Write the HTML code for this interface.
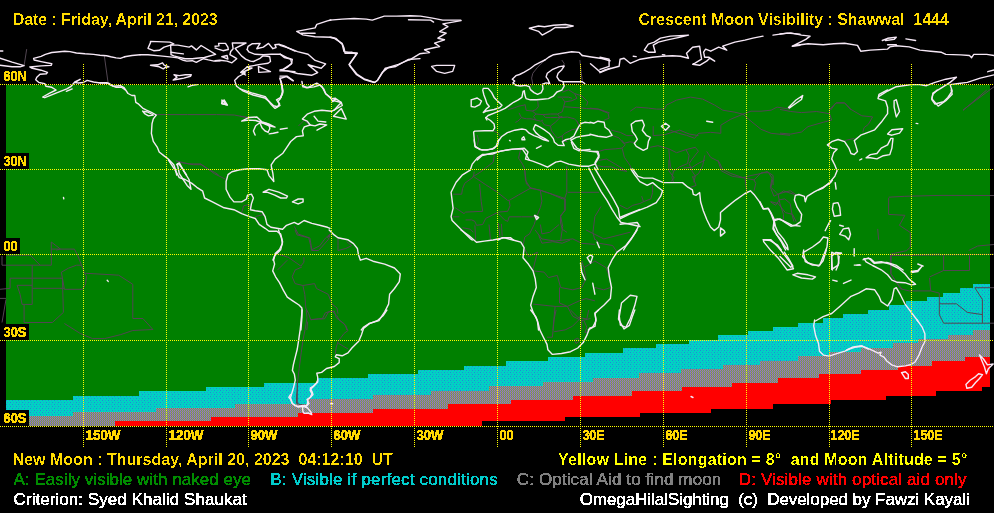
<!DOCTYPE html>
<html><head><meta charset="utf-8"><style>
html,body{margin:0;padding:0;background:#000;width:994px;height:513px;overflow:hidden}
svg{position:absolute;left:0;top:0;display:block}
.t{position:absolute;filter:url(#crisp);line-height:20px;font-family:"Liberation Sans",Arial,sans-serif;font-weight:bold;font-size:16px;white-space:pre}
.r{font-weight:normal;font-size:17px;filter:url(#crisp2)}
.gl{font-family:"Liberation Sans",Arial,sans-serif;font-weight:bold;font-size:14px;fill:#FFD800;filter:url(#crisp2)}
</style></head><body>
<svg width="994" height="513" viewBox="0 0 994 513">
<defs>
<filter id="crisp2" x="0" y="0" width="100%" height="100%"><feComponentTransfer><feFuncA type="discrete" tableValues="0 1 1 1 1"/></feComponentTransfer></filter>
<filter id="crisp" x="0" y="0" width="100%" height="100%"><feComponentTransfer><feFuncA type="discrete" tableValues="0 0 0 1 1"/></feComponentTransfer></filter>
<pattern id="pc" width="6" height="4" patternUnits="userSpaceOnUse"><rect width="6" height="4" fill="#00D2C3"/><rect x="0" y="0" width="1" height="1" fill="#1A8CD8"/><rect x="3" y="0" width="1" height="1" fill="#2A9AD0"/><rect x="1" y="2" width="1" height="1" fill="#2A9AD0"/><rect x="4" y="2" width="1" height="1" fill="#1A8CD8"/></pattern>
<pattern id="pg" width="2" height="2" patternUnits="userSpaceOnUse"><rect x="0" y="0" width="1" height="1" fill="#AF7DAA"/><rect x="0" y="1" width="1" height="1" fill="#5F7DAF"/><rect x="1" y="0" width="1" height="1" fill="#5F9164"/><rect x="1" y="1" width="1" height="1" fill="#AF915F"/></pattern>
</defs>
<rect width="994" height="513" fill="#000"/>
<g shape-rendering="crispEdges">
<polygon points="6,85 990,85 990,284 973,284 973,288 960,288 960,293 943,293 943,297 927,297 927,301 906,301 906,305 889,305 889,310 868,310 868,314 843,314 843,318 823,318 823,323 798,323 798,327 773,327 773,331 748,331 748,335 718,335 718,340 689,340 689,344 656,344 656,348 623,348 623,353 585,353 585,357 548,357 548,361 506,361 506,366 464,366 464,370 418,370 418,374 368,374 368,378 318,378 318,383 264,383 264,387 206,387 206,391 139,391 139,396 73,396 73,400 6,400" fill="#008000"/>
<polygon points="6,400 73,400 73,396 139,396 139,391 206,391 206,387 264,387 264,383 318,383 318,378 368,378 368,374 418,374 418,370 464,370 464,366 506,366 506,361 548,361 548,357 585,357 585,353 623,353 623,348 656,348 656,344 689,344 689,340 718,340 718,335 748,335 748,331 773,331 773,327 798,327 798,323 823,323 823,318 843,318 843,314 868,314 868,310 889,310 889,305 906,305 906,301 927,301 927,297 943,297 943,293 960,293 960,288 973,288 973,284 990,284 990,330 973,330 973,335 948,335 948,339 918,339 918,343 893,343 893,348 861,348 861,352 829,352 829,356 798,356 798,361 760,361 760,365 723,365 723,369 681,369 681,373 639,373 639,378 593,378 593,382 543,382 543,386 489,386 489,391 431,391 431,395 373,395 373,399 308,399 308,404 235,404 235,408 156,408 156,412 73,412 73,416 6,416" fill="url(#pc)"/>
<polygon points="6,416 73,416 73,412 156,412 156,408 235,408 235,404 308,404 308,399 373,399 373,395 431,395 431,391 489,391 489,386 543,386 543,382 593,382 593,378 639,378 639,373 681,373 681,369 723,369 723,365 760,365 760,361 798,361 798,356 829,356 829,352 861,352 861,348 893,348 893,343 918,343 918,339 948,339 948,335 973,335 973,330 990,330 990,357 965,357 965,361 932,361 932,366 898,366 898,370 861,370 861,374 819,374 819,378 778,378 778,383 732,383 732,387 682,387 682,391 632,391 632,396 573,396 573,400 511,400 511,404 448,404 448,409 373,409 373,413 298,413 298,417 211,417 211,421 115,421 115,426 6,426" fill="url(#pg)"/>
<polygon points="115,421 211,421 211,417 298,417 298,413 373,413 373,409 448,409 448,404 511,404 511,400 573,400 573,396 632,396 632,391 682,391 682,387 732,387 732,383 778,383 778,378 819,378 819,374 861,374 861,370 898,370 898,366 932,366 932,361 965,361 965,357 990,357 990,387 982,387 982,391 936,391 936,396 886,396 886,400 831,400 831,404 773,404 773,409 711,409 711,413 640,413 640,417 565,417 565,421 482,421 482,426 115,426" fill="#FF0000"/>
</g>
<g fill="none" stroke="#524652" stroke-width="1">
<polyline points="104.3,55.7 108.1,83.0"/>
<polyline points="26.7,49.1 24.1,65.7"/>
<polyline points="156.3,114.6 187.4,114.6 216.7,114.6 234.2,115.0 244.0,116.9 250.0,117.5"/>
<polyline points="175.8,160.8 181.6,162.7 193.3,164.7 201.1,164.7 206.9,168.5 214.7,172.4 218.6,175.0"/>
<polyline points="240.0,116.2 247.8,117.7"/>
<polyline points="298.5,125.9 304.3,120.1 308.2,124.0 310.2,125.0"/>
<polyline points="176.3,161.0 189.0,163.9 200.7,163.9 206.6,167.8 214.4,173.7 226.1,179.5"/>
<polyline points="241.7,212.7 243.6,205.8 247.5,204.9 251.4,206.8"/>
<polyline points="255.3,216.6 263.1,214.6 265.1,216.6"/>
<polyline points="294.3,226.3 298.2,234.1 309.9,238.0 311.9,249.7"/>
<polyline points="311.9,249.7 319.7,245.8 325.5,238.0 330.0,234.1"/>
<polyline points="295.1,230.0 297.0,234.9 308.7,237.8 310.7,245.6 311.6,250.5 318.5,250.5 328.2,239.7 330.2,234.9 327.2,237.8"/>
<polyline points="338.0,237.8 338.0,245.6 338.0,250.5 345.8,248.5 351.6,245.6 346.7,241.7"/>
<polyline points="275.6,253.4 288.3,257.3 300.9,266.1 303.9,262.2 303.9,257.3"/>
<polyline points="277.5,270.0 287.3,260.2"/>
<polyline points="301.9,267.0 295.1,270.0 292.2,276.8 295.1,283.6 302.9,285.5 314.6,283.6 316.5,288.5 328.2,294.3 332.1,304.1 337.0,308.0 338.0,313.8"/>
<polyline points="302.9,285.5 304.8,294.3 305.8,308.0 308.7,313.8 310.7,319.7 322.4,318.7 325.3,312.8 332.1,310.9 337.0,315.8 338.9,319.7 345.8,325.5 346.7,330.0"/>
<polyline points="307.7,321.6 306.8,330.0"/>
<polyline points="306.1,310.0 307.0,317.8 305.1,329.5 303.1,339.2 301.2,352.9 299.2,368.5 297.3,384.1 297.3,403.5"/>
<polyline points="310.9,319.7 318.7,318.8 324.6,318.8 328.5,311.9 334.3,311.0 336.3,317.8 344.1,323.6 348.0,330.5 344.1,333.4 338.2,341.2 336.3,347.0 335.3,353.9"/>
<polyline points="338.2,343.1 348.0,349.0"/>
<polyline points="297.3,380.0 297.3,388.0 296.5,396.1 296.5,403.3 300.1,404.5 304.1,404.9"/>
<polyline points="830.6,110.0 836.0,102.9 844.6,102.9 851.0,110.0"/>
<polyline points="963.0,110.0 994.0,86.7"/>
<polyline points="630.2,111.2 636.3,107.1 648.4,108.1 656.4,109.1 664.4,109.1 666.5,105.1 676.5,100.1 690.6,97.1 702.7,99.1 714.7,105.1 722.8,110.2 734.9,112.2 742.9,114.2 751.0,111.2 761.0,111.2 771.1,110.2 777.1,107.1 790.0,109.1"/>
<polyline points="742.9,114.2 751.0,121.2 761.0,129.3 771.1,133.3 790.0,135.3"/>
<polyline points="742.9,114.2 730.8,119.2 720.8,125.2 720.8,133.3 710.7,132.3 698.7,133.3 694.6,138.3 686.6,135.3 678.5,133.3 670.5,130.3 665.5,129.3"/>
<polyline points="706.7,151.4 710.7,157.4 718.8,161.5 722.8,169.5 730.8,173.5 742.9,177.6 751.0,175.5 761.0,173.5 767.1,171.5 773.1,175.5 773.1,185.0"/>
<polyline points="704.7,155.4 702.7,165.5 698.7,173.5 692.6,177.6"/>
<polyline points="590.0,108.1 598.0,109.1 608.1,113.2 609.1,118.2 604.1,120.2"/>
<polyline points="494.3,154.1 493.3,162.1 480.2,172.2 472.2,177.2"/>
<polyline points="520.5,150.1 518.5,158.1 522.5,164.1 524.5,168.2 525.5,180.2 530.5,188.3 540.6,190.3 564.7,198.4 566.8,192.3 566.8,166.2"/>
<polyline points="567.8,192.3 599.0,192.3"/>
<polyline points="564.7,198.4 564.7,210.4 560.7,216.5 562.7,226.5 560.7,240.0"/>
<polyline points="601.0,206.4 594.9,216.5 592.9,232.6 594.9,240.0"/>
<polyline points="524.1,247.7 528.5,256.6 537.4,252.1 535.2,261.0 533.0,269.8"/>
<polyline points="533.0,270.9 544.0,272.1 548.5,277.6 557.3,275.4 560.6,287.5 572.8,289.8 581.7,287.5 586.1,278.7 583.9,267.6 581.7,261.0"/>
<polyline points="533.0,304.1 555.1,306.4 567.3,306.4 579.4,300.8 586.1,298.6 594.9,300.8"/>
<polyline points="559.5,287.5 559.5,303.0 567.3,306.4 572.8,316.3 581.7,320.7 590.5,318.5"/>
<polyline points="555.1,306.4 552.9,330.0"/>
<polyline points="581.7,320.7 581.7,330.0"/>
<polyline points="594.9,238.9 599.4,243.3 612.6,245.5 617.1,252.1"/>
<polyline points="583.9,267.6 594.9,261.0 606.0,267.6 609.3,276.5"/>
<polyline points="535.2,230.0 541.8,238.9 555.1,241.1 572.8,238.9 581.7,243.3 594.9,244.4"/>
<polyline points="586.1,230.0 592.7,233.3 603.8,238.9 630.3,232.2"/>
<polyline points="594.9,287.5 603.8,289.8 610.4,287.5"/>
<polyline points="556.1,310.0 554.2,319.1 553.3,328.1 552.4,337.2 547.0,337.2"/>
<polyline points="554.2,331.7 565.1,329.9 572.4,326.3 579.6,319.1 581.4,310.0"/>
<polyline points="570.5,310.0 577.8,317.2 586.8,319.1 588.7,310.0"/>
<polyline points="584.1,320.9 586.8,327.2 585.0,332.6 588.7,331.7"/>
<polyline points="574.2,339.9 577.8,338.1 579.6,340.8 576.0,343.5 574.2,339.9"/>
<polyline points="668.9,160.0 668.9,170.9 674.3,178.1 670.7,181.7"/>
<polyline points="683.4,168.1 692.4,167.2 697.9,163.6 705.1,160.0"/>
<polyline points="692.4,176.3 696.1,185.4 690.6,187.2"/>
<polyline points="717.8,160.0 721.4,170.9 732.3,176.3 745.0,178.1 754.0,179.9 761.3,172.7 768.5,172.7 772.1,178.1 770.3,187.2 773.9,196.2 777.6,194.4 783.0,192.6 790.2,190.8 795.7,194.4"/>
<polyline points="745.0,178.1 746.8,192.6"/>
<polyline points="754.0,179.9 755.8,183.5 754.0,190.8"/>
<polyline points="770.3,201.7 775.7,205.3 779.4,199.8 784.8,198.9 790.2,203.5 792.0,214.3 793.9,221.6"/>
<polyline points="620.0,205.3 627.2,208.9 632.7,205.3 639.9,203.5 643.5,201.7 650.8,198.9 652.6,192.6 652.6,185.4"/>
<polyline points="643.5,201.7 641.7,196.2"/>
<polyline points="780.0,109.4 790.8,111.5 801.5,112.6 816.6,111.5 829.5,113.7 831.7,120.1 823.1,122.3 808.0,126.6 801.5,132.0 790.8,134.1 780.0,133.1"/>
<polyline points="829.5,113.7 829.5,109.4 836.0,102.9 844.6,102.9 851.0,109.4 861.8,115.8 872.6,116.9 868.3,124.4 864.0,127.7 862.9,132.0"/>
<polyline points="844.6,140.6 854.3,138.4"/>
<polyline points="963.0,110.5 986.7,90.0"/>
<polyline points="888.6,198.1 888.6,214.4 904.9,215.3 899.4,225.3 910.3,232.5 910.3,247.0 906.7,250.6 890.4,254.2 890.4,263.3"/>
<polyline points="888.6,197.2 904.9,196.3 940.0,195.4"/>
<polyline points="890.4,255.2 940.0,254.2"/>
<polyline points="877.7,228.9 878.6,239.8"/>
<polyline points="772.7,180.0 770.9,187.2 778.1,194.5 783.5,190.9 794.4,194.5"/>
<polyline points="770.9,201.7 778.1,203.5 785.4,212.6 792.6,214.4 796.2,221.7"/>
<polyline points="778.1,194.5 779.9,203.5 783.5,214.4 783.5,219.8"/>
<polyline points="890.9,255.4 890.9,273.7 896.3,282.3 902.7,289.8"/>
<polyline points="940.0,195.4 994.0,195.5"/>
<polyline points="968.7,250.5 977.7,246.0 994.0,244.5"/>
<polyline points="890.9,255.4 890.9,273.7 900.6,288.8 909.2,290.9 930.7,290.9 939.3,293.1 939.3,314.6 943.6,323.2 994.0,323.2"/>
<polyline points="939.3,303.8 956.5,303.8 967.3,312.4 982.4,314.6"/>
<polyline points="974.8,287.7 982.4,299.5 982.4,323.2"/>
<polyline points="974.8,287.7 994.0,287.7"/>
<polyline points="929.6,278.0 930.7,290.9"/>
<polyline points="929.6,276.9 943.6,270.5 943.6,255.4"/>
<polyline points="943.6,270.5 969.5,270.5 969.5,255.4"/>
<polyline points="890.9,255.4 994.0,254.3"/>
<polyline points="51.3,242.0 51.3,265.2"/>
<polyline points="51.3,242.0 60.4,249.1 56.3,250.1"/>
<polyline points="51.3,249.1 74.4,249.1 77.5,255.1 81.5,265.2 84.5,273.2 86.5,276.2 85.5,284.3 82.5,289.3 64.4,289.3 61.4,272.2 68.4,268.2 76.5,265.2 81.5,265.2"/>
<polyline points="6.0,255.1 30.2,255.1 40.2,265.2"/>
<polyline points="2.0,265.2 51.3,265.2"/>
<polyline points="32.2,265.2 32.2,304.4 22.1,304.4 20.1,294.3 17.1,285.3 32.2,285.3"/>
<polyline points="10.1,278.2 62.4,278.2"/>
<polyline points="10.1,278.2 10.1,288.3 0.0,289.3"/>
<polyline points="32.2,288.3 64.4,288.3"/>
<polyline points="62.4,278.2 63.4,312.4 52.3,322.5 24.1,322.5 24.1,304.4"/>
<polyline points="6.0,298.4 0.0,298.4"/>
<polyline points="6.0,299.4 2.0,322.5"/>
<polyline points="84.5,273.2 118.7,275.2 132.8,284.3 132.8,318.5 142.9,318.5 152.9,329.5 132.8,330.5 120.7,334.6 104.6,338.6 92.6,338.6 80.5,333.6 64.4,323.5"/>
<polyline points="2.0,256.1 2.0,265.2"/>
<polyline points="544.9,60.0 537.6,67.2 532.8,73.3 531.6,78.1 532.8,84.1 530.4,87.8"/>
<polyline points="561.8,60.0 564.2,63.6 563.0,67.2"/>
<polyline points="579.9,60.0 581.1,72.1 582.3,80.5"/>
<polyline points="494.1,131.4 497.8,132.6 500.2,136.2"/>
<polyline points="477.2,135.0 478.5,139.8 477.2,145.9"/>
<polyline points="453.1,194.2 461.7,194.2 462.5,188.7 464.8,183.2 473.4,177.0 474.2,171.6"/>
<polyline points="474.2,177.0 485.8,184.8 496.8,191.8 507.7,200.4 509.2,200.4"/>
<polyline points="479.6,184.0 481.2,201.2 482.7,211.3 465.6,212.1 464.0,213.6"/>
<polyline points="509.2,200.4 518.6,194.9 531.0,187.9 540.4,190.3 549.7,193.4 562.2,198.8 565.3,198.8"/>
<polyline points="509.2,200.4 510.0,205.8 507.7,211.3 498.3,212.1 492.1,215.2 485.8,218.3 482.7,224.5 476.5,225.3 474.9,221.4 471.8,219.9 465.6,219.9"/>
<polyline points="496.8,212.1 504.5,219.9 507.7,221.4 509.2,216.8 521.7,216.8 532.6,216.8 535.7,214.4"/>
<polyline points="540.4,190.3 541.9,201.2 540.4,207.4 536.5,216.8"/>
<polyline points="536.5,216.8 534.2,224.5 529.5,233.9 524.8,237.0 523.2,244.8"/>
<polyline points="565.3,198.8 565.3,210.5 560.6,215.2 560.6,223.0 562.2,229.2 566.9,232.3"/>
<polyline points="540.4,224.5 541.9,233.9 549.7,232.3 559.1,224.5"/>
<polyline points="538.8,235.5 541.9,243.2 552.9,241.7 562.2,243.2 570.0,240.1"/>
<polyline points="498.3,223.0 499.9,237.0"/>
<polyline points="501.4,223.8 502.2,236.2"/>
<polyline points="489.0,224.5 490.5,240.1"/>
<polyline points="474.9,225.3 475.7,240.1"/>
<polyline points="454.7,207.4 464.0,213.6"/>
<polyline points="453.1,216.8 459.4,216.8"/>
<polyline points="462.5,227.7 470.3,229.2 473.4,232.3"/>
<polyline points="524.8,170.0 526.4,184.0 531.0,187.9"/>
<polyline points="597.1,151.9 604.9,149.6 615.8,148.8 622.1,148.1"/>
<polyline points="622.1,148.1 624.4,157.4 629.9,165.2 631.4,169.6"/>
<polyline points="606.5,159.0 615.8,164.4 626.8,171.4"/>
<polyline points="598.7,160.5 606.5,159.0"/>
<polyline points="595.6,165.2 603.4,166.8 611.2,166.8 619.0,169.9 626.8,171.4"/>
<polyline points="622.1,140.3 625.2,144.9 622.1,148.1"/>
<polyline points="611.2,130.1 620.5,132.5 626.8,135.6 633.0,135.6"/>
<polyline points="612.7,135.6 619.0,137.9 623.6,143.4 629.9,141.8 634.5,142.6"/>
<polyline points="650.1,147.3 657.9,145.7 668.8,148.8 676.6,152.7 686.0,149.6 695.3,147.3"/>
<polyline points="668.8,148.8 669.6,159.0 670.4,166.8 673.5,171.4 671.9,177.7 673.5,182.3"/>
<polyline points="686.0,149.6 689.1,155.8 687.5,163.6 679.7,166.8 673.5,171.4"/>
<polyline points="695.3,147.3 698.4,151.2 692.2,159.0 689.1,163.6"/>
<polyline points="653.2,126.2 653.2,135.6 664.2,134.8 679.7,130.1 689.1,134.0 698.4,135.6"/>
<polyline points="689.1,163.6 692.2,171.4 695.3,176.1 693.8,182.3"/>
<polyline points="508.1,109.7 514.1,107.9 519.0,106.1 525.0,104.9"/>
<polyline points="525.0,104.3 526.2,110.4 532.3,111.0 535.9,109.7 538.3,106.7 537.7,100.7"/>
<polyline points="519.0,112.8 521.4,117.6 517.8,121.2 515.4,122.4"/>
<polyline points="521.4,117.6 526.2,118.8 531.0,118.8 535.9,120.0 540.7,121.2 543.1,120.0"/>
<polyline points="532.3,111.0 535.9,114.0 543.1,114.6 550.4,114.0 557.6,114.0 562.4,111.6 563.6,106.7 564.9,101.9 562.4,98.3"/>
<polyline points="535.9,114.0 533.5,116.4 535.9,120.0"/>
<polyline points="543.1,114.6 545.5,117.6 550.4,117.6 557.6,117.6 562.4,116.4"/>
<polyline points="555.2,122.4 560.0,117.6 567.3,117.0 574.5,118.8 576.9,121.2 579.3,126.0"/>
<polyline points="541.9,121.2 544.3,124.8 550.4,126.0 555.2,122.4"/>
<polyline points="550.4,126.0 551.6,130.9 555.2,135.7 557.6,138.1"/>
<polyline points="557.6,138.1 562.4,135.7 564.9,133.3 572.1,129.7 578.1,128.5"/>
<polyline points="562.4,135.7 562.4,140.5 567.3,141.7"/>
<polyline points="563.6,106.7 572.1,107.3 580.5,107.9 586.6,108.5 598.7,109.1 609.5,112.8"/>
<polyline points="564.9,101.9 572.1,100.7 576.9,98.3 574.5,93.5 568.5,89.8 562.4,92.2"/>
<polyline points="574.5,93.5 581.8,95.9 587.8,101.9 586.6,105.5"/>
<polyline points="576.9,121.2 579.3,126.0 581.8,127.3"/>
<polyline points="557.6,97.1 562.4,97.1 568.5,97.1 572.1,98.3"/>
<polyline points="557.6,114.0 560.0,117.6"/>
</g>
<g fill="none" stroke="#F6E8F6" stroke-width="1.4" stroke-linejoin="round" stroke-linecap="round">
<polyline points="125.0,56.6 120.4,58.4 116.1,57.9 110.7,56.8 106.5,55.7 100.0,55.2 93.6,54.4 85.0,53.8 76.4,53.0 70.0,51.6 64.7,51.2 57.2,52.0 51.8,52.5 45.4,54.4 41.1,56.3 33.6,58.4 34.1,60.0 41.1,61.6 51.8,63.8 51.3,65.4 41.1,65.9 29.8,67.0 31.4,68.0 41.1,70.2 47.5,72.3 46.4,73.7 40.0,74.2 36.8,77.2 35.7,79.8 38.9,82.5 44.8,83.6 45.9,86.3 51.8,87.3 56.1,90.0 49.7,93.2 42.7,97.0 44.8,97.7 57.2,92.7 66.8,88.9 71.1,86.3 74.8,82.0 80.2,79.3 77.5,80.9 75.4,82.5 78.6,83.0 83.4,82.5 87.2,80.4 93.6,82.0 100.0,83.0 106.5,82.7 110.7,85.2 116.1,87.3 121.5,87.3 125.0,89.8"/>
<polyline points="66.3,91.3 72.2,88.9"/>
<polyline points="0.0,58.2 12.1,62.2 24.1,65.7 20.1,66.8 12.1,66.8 6.0,66.0 0.0,65.2"/>
<polyline points="0.0,51.0 2.8,51.0"/>
<polyline points="215.0,46.3 219.0,45.9 218.6,43.4 225.5,43.4 227.9,47.1 228.3,49.5 223.0,50.7 218.2,49.1 215.0,47.9"/>
<polyline points="221.8,56.7 227.1,55.5 227.9,59.1 221.8,56.7"/>
<polyline points="215.0,60.7 219.8,60.3 227.1,61.1 231.9,62.8 236.7,58.7 234.3,57.1 229.9,54.7 230.7,51.5 233.1,48.7 232.3,43.0 246.0,43.0 235.1,48.3 236.7,50.3 241.5,55.9 245.6,59.1 250.4,61.1 253.6,61.5 260.1,58.3 262.9,55.9 267.3,56.3 269.7,56.7 270.5,61.5 268.1,63.2 260.1,64.4 253.6,65.6 247.2,66.8 249.6,68.0 252.0,68.0 243.2,72.0 240.7,72.4 245.6,75.0"/>
<polyline points="247.2,49.5 248.0,46.3 252.0,43.8 260.1,43.4 256.8,48.7 263.3,47.1 268.5,43.4 272.9,48.7 276.1,47.5 274.9,44.7 279.4,44.3 284.2,45.9 289.0,48.3 295.0,51.1"/>
<polyline points="247.2,49.5 248.8,51.9 255.2,54.3 263.3,54.7 271.3,54.3 280.2,54.1 284.2,57.5 290.6,59.1 291.8,63.2 287.4,67.2 281.8,70.4 295.0,71.6"/>
<polyline points="258.4,66.4 258.8,72.4 270.5,71.6 258.4,66.4"/>
<polyline points="150.5,41.4 169.8,42.1 173.8,43.8 170.6,45.1 164.1,47.1 159.3,50.3 153.7,50.7 148.0,48.3 150.5,42.6 150.5,41.4"/>
<polyline points="170.6,45.1 177.8,45.1 189.1,47.1 191.5,45.9 196.3,49.9 201.1,45.5 215.6,54.3 204.4,57.5 196.3,58.3 192.3,58.7 185.1,58.7 178.6,57.1 173.8,55.9 171.0,54.7 171.0,52.3 177.0,53.1 183.4,53.9"/>
<polyline points="171.0,52.3 170.6,45.1"/>
<polyline points="140.0,54.7 148.0,54.7 160.1,55.9 172.2,57.1 177.8,57.9 183.4,60.3 186.7,61.1 192.3,60.7 196.3,62.4 199.5,60.7 203.6,58.7 208.4,59.9 214.0,61.1 220.0,60.7"/>
<polyline points="150.5,65.2 157.7,64.8 162.5,62.8 164.1,65.2 169.0,66.8 165.7,67.2 163.3,68.8 159.3,66.8 150.5,65.2"/>
<polyline points="174.0,74.8 179.2,75.6 185.3,74.8 191.3,74.8 190.6,76.3 183.8,78.1 177.7,79.3 173.2,80.1 177.0,77.1 174.0,74.8"/>
<polyline points="188.0,86.9 192.1,85.4 197.3,84.6"/>
<polyline points="247.3,66.8 241.4,71.7 245.3,73.0 238.5,76.5 234.6,80.4 236.6,86.3 243.4,91.2 253.1,95.0 264.8,98.0 269.7,101.9 273.6,105.8 277.5,106.7 279.5,103.8 276.5,99.9 280.4,97.6 282.8,92.1 282.0,84.3 280.0,78.5 286.3,76.5 293.1,80.8"/>
<polyline points="221.9,99.9 226.8,104.8 221.9,103.8 221.9,99.9"/>
<polyline points="330.9,20.0 327.4,20.9 316.8,24.4 315.1,27.9 296.7,31.4 302.8,34.9 315.1,36.7 330.9,37.2 336.1,38.4 342.3,44.6 344.0,51.6 357.2,53.3 349.3,64.7 357.2,74.4 364.2,78.8 374.7,82.3 377.4,80.5 385.3,68.2 395.8,66.5 408.1,59.5 420.0,58.6"/>
<polyline points="345.8,53.3 357.2,53.3"/>
<polyline points="301.1,33.2 315.1,33.2"/>
<polyline points="280.0,45.4 288.8,48.1 297.5,51.6 308.1,54.2 315.1,60.4 325.6,63.9 321.2,68.2 308.1,64.7 317.7,72.6 311.6,75.3 297.5,73.5 287.0,70.9 280.0,70.9"/>
<polyline points="280.0,54.2 287.0,57.7 292.3,59.5 291.4,63.9 283.5,69.1 280.0,70.0"/>
<polyline points="280.0,76.1 287.0,76.1 293.2,80.5"/>
<polyline points="301.9,81.4 302.8,86.7 308.1,87.5 316.8,83.2 322.1,86.7 325.6,93.7 330.9,98.1 332.6,101.6 336.1,98.9 341.4,102.5 337.9,106.0 334.4,110.0"/>
<polyline points="280.0,77.9 281.8,86.7 282.6,93.7 280.0,98.9"/>
<polyline points="124.5,56.8 132.0,55.5 140.0,54.7"/>
<polyline points="99.7,82.8 108.5,83.2 113.4,86.3 120.2,85.7 124.1,87.7 128.0,93.5 131.9,95.5 134.8,95.5 135.8,102.3 138.7,104.2 142.6,108.1 146.5,110.1 151.4,112.4 156.3,115.0 153.3,118.9 152.0,123.7 151.4,133.5 153.3,141.3 157.2,147.1 159.2,152.0 164.1,155.9 168.0,158.8 170.9,161.7 173.8,164.7 175.8,170.5 176.7,175.0"/>
<polyline points="142.6,111.1 147.5,112.0 153.3,115.0 148.5,115.9 144.6,113.6 142.6,111.1"/>
<polyline points="176.7,164.7 178.7,163.7 181.6,167.6 186.5,175.0"/>
<polyline points="224.1,99.9 227.4,105.2 221.6,103.3 224.1,99.9"/>
<polyline points="240.0,88.9 251.7,92.8 265.3,96.7 271.2,104.5 275.1,108.4 280.0,105.5 278.0,101.6 280.9,97.7 282.9,90.8 281.9,85.0"/>
<polyline points="302.4,85.0 306.3,87.9 314.1,86.9 319.9,85.0"/>
<polyline points="319.9,85.0 323.8,88.9 325.8,93.8 331.6,98.6 335.5,98.3 333.5,100.6 341.3,102.5 342.3,105.5 331.6,111.3 321.9,110.3 314.1,111.3 307.2,114.2 302.4,119.1 307.2,121.1 310.2,125.0 315.0,125.9 319.9,124.0 326.7,125.0 317.0,130.2"/>
<polyline points="314.1,116.2 318.0,121.1 325.8,122.0"/>
<polyline points="333.5,116.2 341.3,108.4 346.2,119.1 333.5,116.2"/>
<polyline points="310.2,125.0 304.3,126.9 302.4,130.8 303.3,135.7 296.5,136.6 290.7,141.5 286.8,147.4 282.9,153.2 275.1,159.1 271.2,164.9 271.7,168.8"/>
<polyline points="168.5,160.0 175.4,170.7 179.3,177.6 185.1,179.5 191.9,183.4 196.8,187.3 202.7,191.2 204.6,198.0 212.4,201.9 224.1,207.8 233.9,209.7 241.7,213.6 249.5,216.6 255.3,218.5 259.2,224.4 265.1,228.3 269.0,231.2 276.8,231.2 280.7,234.1 282.6,241.9 280.7,249.7 274.8,255.6 272.9,260.0"/>
<polyline points="177.3,163.9 179.3,162.9 184.1,171.7 189.0,179.5 191.0,189.3 187.1,185.4 183.2,179.5 179.3,173.7 177.3,163.9"/>
<polyline points="271.9,168.8 272.9,173.7 273.8,181.5 269.0,175.6 267.0,169.8 259.2,168.8 248.5,168.8 239.7,169.8 231.9,171.7 228.0,174.6 226.1,181.5 226.1,189.3 230.0,197.1 233.9,201.9 241.7,201.9 246.5,199.0 247.5,195.1 251.4,194.1 253.4,198.0 251.4,203.9 250.4,209.7 255.3,210.7 262.1,211.7 265.1,216.6 267.0,224.4 270.9,227.3 282.6,229.2 286.5,225.3 294.3,222.4 298.2,224.4 304.1,220.5 311.9,223.4 319.7,225.3 327.5,227.3 330.0,228.3"/>
<polyline points="263.1,192.2 269.0,189.3 278.7,192.2 287.5,196.1 286.5,198.0 280.7,198.0 274.8,195.1 267.0,192.2 263.1,192.2"/>
<polyline points="292.4,201.9 298.2,199.0 303.1,199.0 303.1,201.9 298.2,203.9 292.4,201.9"/>
<polyline points="278.5,230.0 279.5,232.9 281.4,237.8 282.4,243.6 279.5,249.5 275.2,253.4 273.6,260.2 274.6,264.1 272.7,270.9 275.6,276.8 279.5,282.6 283.4,290.4 287.3,297.2 293.1,301.1 299.0,305.0 301.9,308.0 301.9,317.7 300.9,330.0"/>
<polyline points="329.2,230.0 334.1,234.9 338.0,237.8 347.7,239.7 353.5,243.6 357.4,248.5 358.4,254.4 360.4,260.2 366.2,258.3 373.0,261.2 384.7,264.1 394.5,268.0 400.3,273.9 399.3,281.6 394.5,288.5 389.6,294.3 388.6,304.1 384.7,311.9 378.9,320.6 369.1,323.5 363.3,327.4 361.3,330.0"/>
<polyline points="302.2,310.0 301.2,319.7 300.2,329.5 298.8,339.2 297.3,349.0 295.3,356.8 293.4,364.6 292.4,370.4 294.4,374.3 295.3,380.2 293.4,388.0 290.5,397.7 292.4,403.5 297.3,406.5 303.1,405.5 307.0,407.4"/>
<polyline points="386.9,310.0 383.0,315.8 377.2,320.7 369.4,323.6 363.5,328.5 361.6,334.4 358.7,341.2 351.9,348.0 348.0,352.9 342.1,355.8 336.3,354.8 335.3,356.8 339.2,358.7 339.2,362.6 334.3,366.5 326.5,368.5 321.6,372.4 316.8,373.3 317.7,377.2 317.7,382.1 313.9,386.0 310.0,389.9 311.9,393.8 310.0,397.7 307.0,399.7 309.0,403.5 306.1,406.5"/>
<polyline points="290.5,394.5 288.8,397.3 290.5,399.3 292.1,403.3 294.5,405.3 298.5,407.0 301.7,406.5 304.1,405.7 306.5,405.7 307.4,404.1 307.8,399.3 310.6,397.3 313.0,394.5 312.2,392.1 310.2,388.0 313.0,386.4 316.2,383.2 317.8,380.0"/>
<polyline points="302.5,407.0 302.9,411.4 304.1,413.4 308.2,413.0 311.8,414.6 311.0,412.2 307.4,407.8 304.1,406.5 302.5,407.0"/>
<polyline points="330.7,403.7 332.7,403.7"/>
<polyline points="330.0,20.1 342.1,19.1 354.1,18.5 366.2,19.1 372.3,20.1 378.3,18.1 384.3,16.1 396.4,16.1 410.5,15.7 420.5,16.1 432.6,18.1 442.7,20.1 460.8,20.1"/>
<polyline points="461.1,20.6 442.9,23.9 447.9,26.6 439.6,31.5 446.2,33.2 437.9,38.2 444.5,39.8 434.6,43.2 439.6,46.5 424.6,49.8 429.6,52.5 419.6,53.8 409.7,59.8"/>
<polyline points="409.5,59.6 398.4,64.4 388.4,67.4 382.3,72.4 377.3,80.5 374.3,82.5 364.2,79.5 356.2,74.4 350.1,66.4 349.1,64.4 356.2,54.3 352.1,52.3 345.1,53.3 344.1,48.3 342.1,43.3 334.0,38.2 330.0,37.2"/>
<polyline points="408.5,19.7 430.6,20.1 433.6,22.1"/>
<polyline points="431.6,66.4 436.6,65.4 454.7,65.4 452.7,71.4 444.7,73.4 436.6,71.4 431.6,66.4"/>
<polyline points="600.0,57.2 609.1,59.2 609.1,66.3 600.0,69.3"/>
<polyline points="600.0,72.7 608.0,69.3 619.1,66.3 620.1,59.2 624.1,58.2 630.2,63.3 640.2,59.2 652.3,57.2 662.4,56.2 672.4,55.8 680.5,56.2 688.5,58.2 686.5,53.2 692.6,47.2 699.6,46.2 700.6,53.2 701.6,59.2 694.6,63.3 692.6,64.3 699.6,65.3 706.6,61.2 709.7,58.2 714.7,61.2 708.7,57.2 704.6,57.2 703.6,52.2 705.6,49.2 710.7,51.2 718.7,47.2 726.8,50.2 722.7,46.2 734.8,42.1 744.9,40.1 752.9,38.1 763.0,36.1"/>
<polyline points="644.3,50.2 648.3,44.1 654.3,42.1 660.4,38.1 670.4,36.1 688.5,35.1 680.5,37.1 666.4,40.1 658.4,42.1 653.3,45.2 655.3,52.2 648.3,52.2 644.3,50.2"/>
<polyline points="773.0,35.1 787.1,33.1 800.0,34.1"/>
<polyline points="792.2,46.2 800.0,45.2"/>
<polyline points="633.2,56.2 636.2,56.6"/>
<polyline points="662.4,54.6 664.8,55.0"/>
<polyline points="780.0,34.0 790.8,32.9 801.5,35.1 810.1,36.1 805.8,39.4 792.9,45.8 808.0,43.7 823.1,44.8 833.8,43.7 844.6,43.3 857.5,45.4 860.7,51.2 870.4,50.1 887.6,49.1 889.8,46.9 896.3,45.8 909.2,46.9 919.9,50.1 930.7,51.2 941.5,52.3 945.8,54.4 960.8,54.9 969.5,55.5 971.6,57.7 973.8,54.4 986.7,54.4 994.0,55.5"/>
<polyline points="882.3,40.5 887.6,38.3 896.3,37.2 894.1,39.4 885.5,40.5"/>
<polyline points="905.9,38.9 915.6,40.5"/>
<polyline points="887.6,44.8 896.3,44.8"/>
<polyline points="879.0,96.4 887.6,91.0 896.3,86.7 911.3,84.6 919.9,84.6 926.4,85.7 935.0,82.4 945.8,79.2 956.5,77.1 950.1,82.4 941.5,87.8 932.9,93.2 931.8,99.7 935.0,104.0 943.6,101.8 947.9,97.5 952.2,91.0 950.1,84.6 958.7,83.5 967.3,82.4 980.2,78.1 994.0,74.9"/>
<polyline points="987.8,71.7 994.0,69.9"/>
<polyline points="788.5,107.5 796.0,100.0 802.7,95.5 801.5,99.5 795.0,104.0 789.5,108.0"/>
<polyline points="631.2,124.2 635.3,121.2 642.3,120.2 644.3,125.2 642.3,130.3 646.3,135.3 650.4,137.3 648.4,141.3 647.3,148.4 643.3,150.4 636.3,146.4 634.3,143.4 637.3,139.3 635.3,135.3 632.3,131.3 631.2,124.2"/>
<polyline points="661.4,126.2 665.5,123.2 669.5,126.2 665.5,130.3 661.4,126.2"/>
<polyline points="706.7,121.2 712.7,122.2"/>
<polyline points="590.0,122.2 594.0,123.2 598.0,121.2 604.1,122.2 605.1,127.3 609.1,130.3 612.1,135.3 606.1,137.3 598.0,136.3 590.0,134.3"/>
<polyline points="590.0,151.4 598.0,151.4 599.1,155.4 595.0,162.5 596.0,165.5 598.0,169.5"/>
<polyline points="474.2,140.0 475.2,147.0 482.3,150.1 492.3,149.1 496.3,146.0 498.4,140.0"/>
<polyline points="526.5,155.1 522.5,149.1 512.4,149.1 500.4,151.1 492.3,154.1 482.3,154.5 477.2,158.1 472.2,164.1 470.2,170.2 462.1,175.2 456.1,182.3 451.1,192.3 452.1,200.4 453.1,208.4 451.1,216.5 452.1,220.5 458.1,226.5 464.1,232.6 470.2,238.6 472.2,240.0"/>
<polyline points="526.5,155.1 525.5,159.1 532.6,161.1 540.6,164.1 547.6,167.2 555.7,162.1 560.7,161.1 568.8,164.1 580.8,166.2 588.9,166.2 594.9,164.1 599.0,157.1 596.9,152.1 588.9,151.1 580.8,150.1 576.8,148.0 570.8,140.0"/>
<polyline points="588.9,168.2 594.9,180.2 601.0,191.3 607.0,200.4 612.0,209.4 617.1,217.5 621.1,222.5 631.1,224.5 640.0,226.5"/>
<polyline points="594.5,167.8 600.6,178.2 607.0,188.3 613.0,198.4 618.3,208.4 619.7,217.5 627.1,214.4 640.0,209.4"/>
<polyline points="534.6,215.5 536.6,219.5 538.6,217.5 534.6,215.5"/>
<polyline points="498.4,240.0 502.4,237.6 510.4,237.6 513.4,240.0"/>
<polyline points="461.0,230.0 468.8,235.5 476.5,242.2 484.3,241.1 493.1,240.0 504.2,237.7 513.0,240.0 520.8,242.2 524.1,247.7 523.0,257.7 528.5,264.3 533.0,270.9 535.2,278.7 536.3,287.5 533.0,296.4 530.7,305.3 533.0,311.9 537.4,320.7 538.5,330.0"/>
<polyline points="637.0,230.0 632.6,236.6 625.9,245.5 617.1,252.1 612.6,258.8 608.2,267.6 609.3,276.5 611.5,287.5 610.4,298.6 603.8,305.3 594.9,313.0 596.0,320.7 592.7,327.4 588.3,330.0"/>
<polyline points="630.3,295.3 637.0,296.4 634.8,305.3 630.3,318.5 625.9,327.4 620.4,325.2 619.3,316.3 621.5,303.0 630.3,295.3"/>
<polyline points="587.2,257.7 590.5,254.8 592.7,256.6 590.5,263.2 587.2,257.7"/>
<polyline points="580.5,263.2 581.7,272.1 585.0,279.8"/>
<polyline points="592.7,283.1 594.9,294.2"/>
<polyline points="597.1,242.2 599.4,247.7"/>
<polyline points="530.7,310.0 536.1,317.2 538.0,322.7 539.8,329.9 543.4,337.2 547.0,344.4 547.9,349.8 552.4,354.4 561.5,353.5 570.5,351.7 577.8,348.0 583.2,342.6 586.8,335.4 589.6,328.1 595.0,326.3 595.9,319.1 595.0,313.6 598.6,310.0"/>
<polyline points="619.4,310.0 618.5,319.1 624.0,329.0 629.4,325.4 632.1,317.2 634.8,310.0"/>
<polyline points="630.9,169.1 634.5,174.5 639.9,181.7 647.2,185.4 652.6,182.6 658.0,187.2 662.6,190.8 660.7,196.2 656.2,202.6 647.2,207.1 638.1,210.7 629.1,214.3 620.0,218.9"/>
<polyline points="632.7,169.1 638.1,176.3 643.5,178.1 652.6,178.1 663.5,182.6 674.3,182.6 682.5,182.6 687.9,187.2 692.4,189.9 693.3,194.4 696.1,195.3 699.7,192.6 700.6,201.7 703.3,210.7 706.9,219.8 710.5,227.0 714.2,230.6 718.7,227.0 720.5,219.8 720.5,212.5 726.8,207.1 735.9,199.8 745.0,193.5 750.4,190.8 754.0,194.4 759.4,201.7 763.1,208.9 768.5,208.9 771.2,214.3 773.9,221.6 773.0,228.8 777.6,236.1 781.2,241.5 783.9,246.9 785.7,250.0"/>
<polyline points="720.5,227.9 724.1,230.6 725.0,232.4 720.5,236.1 720.5,227.9"/>
<polyline points="620.0,224.3 629.1,223.4 637.2,222.5 639.0,225.2 635.4,232.4 630.9,239.7 625.4,246.9 623.6,250.0"/>
<polyline points="773.9,219.8 777.6,218.9 783.0,220.7 792.0,225.2 800.0,226.1"/>
<polyline points="763.1,239.7 770.3,240.6 777.6,245.1 781.2,250.0"/>
<polyline points="887.6,90.0 879.0,94.3 878.0,98.6 885.5,100.8 887.6,107.2 887.6,113.7 881.2,122.3 874.7,129.8 866.1,133.1 860.7,135.2 854.3,140.6 857.5,151.4 854.3,154.6 851.0,153.5 848.9,148.1 844.6,141.7 838.1,139.5 831.7,141.7 827.4,144.9 831.7,148.1 837.1,149.2 833.8,152.4 831.7,158.9 834.9,165.3 837.1,170.7 834.9,176.1 829.5,182.6 823.1,188.0 818.8,189.9"/>
<polyline points="894.1,100.8 896.3,99.7 899.5,111.5 896.3,116.9 894.1,107.2 894.1,100.8"/>
<polyline points="887.6,134.1 891.9,129.8 902.7,128.8 899.5,133.1 891.9,135.2 887.6,134.1"/>
<polyline points="866.1,157.8 870.4,154.6 876.9,153.5 881.2,148.1 887.6,144.9 890.9,138.4 893.0,138.4 891.9,148.1 889.8,154.6 883.3,155.7 876.9,158.9 870.4,157.8 866.1,157.8"/>
<polyline points="859.7,160.0 861.8,158.9"/>
<polyline points="937.2,90.0 932.9,94.3 931.8,98.6 938.2,106.1 945.8,100.8 952.2,94.3 951.2,90.0"/>
<polyline points="916.1,123.4 917.8,123.6"/>
<polyline points="832.4,180.0 830.6,182.7 823.4,187.2 814.3,191.8 807.1,196.3 805.3,201.7 804.4,196.3 798.9,194.5 795.3,195.4 794.4,199.9 797.1,207.2 801.7,214.4 800.7,221.7 795.3,225.3 790.8,226.2 785.4,222.6 779.9,218.9 774.5,220.7 773.6,228.0 776.3,234.3 780.8,239.8 785.4,247.0 788.1,249.7 787.2,245.2 783.5,238.9 778.1,232.5 775.4,226.2 773.6,218.0 770.9,212.6 768.1,208.1 763.6,209.0 760.0,201.7"/>
<polyline points="763.6,239.8 770.9,239.8 778.1,247.0 785.4,256.1 790.8,263.3 793.5,268.7 787.2,270.0 783.5,265.1 778.1,257.9 770.9,250.6 763.6,241.6 763.6,239.8"/>
<polyline points="803.5,252.4 812.5,247.0 819.8,241.6 823.4,237.0 827.9,238.0 827.0,247.0 823.4,256.1 819.8,265.1 812.5,265.1 805.3,261.5 803.5,252.4"/>
<polyline points="835.2,182.7 836.1,189.1"/>
<polyline points="833.3,203.5 837.9,202.6 839.7,207.2 840.6,215.3 834.2,216.2 832.4,209.0 833.3,203.5"/>
<polyline points="839.7,234.3 843.3,228.9 848.7,228.0 850.5,234.3 848.7,239.8 845.1,236.1 839.7,234.3"/>
<polyline points="839.7,225.3 843.3,226.2"/>
<polyline points="825.2,230.7 828.8,223.5 830.6,220.7"/>
<polyline points="832.4,270.0 831.5,256.1 836.1,252.4 841.5,253.3 837.9,254.2 838.8,263.3 836.1,270.0"/>
<polyline points="863.2,259.7 868.7,257.9 874.1,263.3 886.8,262.4 895.8,265.1 903.1,270.0"/>
<polyline points="854.2,248.8 854.2,256.1"/>
<polyline points="856.9,265.1 859.6,264.8"/>
<polyline points="792.9,274.8 797.2,273.3 808.0,274.8 815.5,276.9 812.3,279.1 801.5,278.0 792.9,274.8"/>
<polyline points="784.3,252.2 788.6,258.6 792.9,266.1 790.8,267.2 786.5,262.9 780.0,256.5"/>
<polyline points="803.7,250.0 802.6,256.5 808.0,262.9 818.8,266.1 823.1,260.8 826.3,250.0"/>
<polyline points="841.4,253.2 836.0,254.3 831.7,252.2 831.7,269.4 838.1,265.1 839.2,256.5"/>
<polyline points="832.7,280.1 837.1,281.2"/>
<polyline points="843.5,283.4 851.0,280.1"/>
<polyline points="854.3,265.1 860.7,265.1"/>
<polyline points="864.0,258.6 870.4,258.6 874.7,262.5 881.2,261.8 889.8,264.0 898.4,268.3 904.9,273.7 909.2,279.1 915.6,284.4 911.3,284.9 904.9,282.7 897.3,282.3 891.9,280.1 887.6,274.8 881.2,269.8 872.6,265.5 866.1,261.8 864.0,258.6"/>
<polyline points="911.3,271.5 917.8,270.5 921.0,267.2 922.1,266.1 917.8,271.5 911.3,272.6"/>
<polyline points="917.8,264.0 923.2,266.1"/>
<polyline points="815.5,321.0 823.1,316.7 831.7,313.5 840.3,306.0 851.0,296.3 858.6,293.1 866.1,288.8 874.7,289.8 879.0,296.3 881.2,301.7 887.6,306.0 891.9,299.5 894.1,288.8 896.3,287.7 900.6,295.2 904.9,303.8 911.3,312.4 917.8,321.0"/>
<polyline points="846.7,349.9 853.2,346.9 861.8,345.8 868.3,349.0"/>
<polyline points="814.6,320.0 813.7,325.9 815.6,335.6 818.5,343.4 819.5,351.2 823.4,355.1 829.3,356.1 835.1,354.2 844.9,351.2 848.8,349.3 854.6,347.3 862.5,346.3 870.3,349.3 878.1,353.2 881.0,352.2 880.0,355.1 883.9,357.1 886.8,361.0 891.7,364.9 897.6,366.8 905.4,365.9 911.2,364.5 915.1,362.0 919.0,355.1 922.0,347.3 924.9,341.5 924.9,333.7 922.0,326.8 917.1,320.0"/>
<polyline points="901.5,372.7 905.4,371.7 908.3,374.6 908.3,378.5 905.4,378.5 901.5,372.7"/>
<polyline points="979.5,355.1 983.5,359.0 987.4,364.9 993.2,363.9 988.3,368.8 986.4,373.7 984.4,366.8 979.5,355.1"/>
<polyline points="965.9,384.4 969.8,380.5 975.6,376.6 978.6,373.7 982.5,374.6 979.5,378.5 975.6,382.5 971.7,387.3 966.9,388.3 965.9,384.4"/>
<polyline points="107.2,280.2 108.2,281.4"/>
<polyline points="63.5,197.5 63.8,198.8"/>
<polyline points="529.4,28.3 538.5,26.0 544.5,26.8 553.6,25.3 565.6,24.5 573.2,26.0 565.6,27.5 555.1,27.5 550.5,30.6 542.2,35.1 538.5,31.3 529.4,28.3"/>
<polyline points="582.2,55.5 591.3,57.0 601.8,58.5 610.0,60.7"/>
<polyline points="590.5,63.8 595.8,68.3 600.3,72.1 604.9,69.8 610.0,68.3"/>
<polyline points="471.2,99.8 477.2,98.0 481.5,101.0 479.7,104.7 474.8,107.1 471.2,106.5 471.2,99.8"/>
<polyline points="483.3,88.4 488.1,88.4 491.7,92.6 494.1,97.4 498.4,101.7 502.0,105.3 499.6,107.7 494.1,109.5 485.7,111.3 483.3,112.5 486.3,108.9 489.3,106.5 486.9,103.5 485.7,99.8 483.9,95.0 482.7,90.2 483.3,88.4"/>
<polyline points="544.9,60.0 540.0,62.4 535.2,64.8 530.4,68.5 524.3,72.1 519.5,74.5 515.9,75.7 512.3,79.3 514.7,81.1 512.9,82.9 515.9,85.4 520.7,86.0 525.5,85.4 529.2,86.6 530.4,89.6 534.0,92.6 537.6,94.4 541.2,92.6 543.0,89.0 542.4,84.1 546.1,82.9 549.7,83.5 547.9,79.3 546.1,76.9 547.3,73.3 552.1,69.7 559.3,66.6 564.2,66.0 561.8,69.7 558.1,73.3 556.9,76.9 559.3,80.5 563.0,81.7 564.2,86.0 561.8,90.2 556.9,92.0 553.3,96.2 548.5,98.6 542.4,99.2 536.4,99.8 530.4,99.8 526.1,98.6 524.9,95.0 524.3,90.8 523.1,91.4 521.9,97.4 518.3,99.8 513.5,102.3 508.6,105.9 505.0,108.3 500.2,110.7 494.1,113.1 488.1,115.5 485.7,118.0 486.9,120.0"/>
<polyline points="563.0,81.7 573.8,81.7 582.3,81.7 584.7,83.5"/>
<polyline points="544.9,60.0 549.0,57.0 553.6,54.7 562.6,53.2 571.7,51.7 579.2,52.4 582.2,55.5"/>
<polyline points="485.7,117.5 490.5,120.5 494.1,124.1 494.7,127.8 492.9,130.8 484.5,130.8 474.8,131.1 473.6,132.0 474.2,138.6 474.8,145.9 479.7,149.5 486.9,150.1 494.1,148.3 497.8,144.7 498.4,141.0 501.4,136.8 507.4,132.6 514.7,130.2 521.9,129.0 525.5,129.6 529.2,133.2 534.0,135.6 538.8,137.4 543.6,139.8 548.5,141.0 544.9,138.6 540.0,136.2 535.8,132.6 533.4,129.0 535.2,124.7 540.0,127.2 544.9,130.2 549.7,133.8 553.3,138.6 554.5,142.3 558.1,145.3 564.2,145.6 562.4,141.7 565.4,139.8 570.2,138.6 573.8,136.2 576.2,131.4 578.7,126.6 581.1,123.5 584.7,122.3 590.0,122.9"/>
<polyline points="536.4,148.3 541.2,145.9"/>
<polyline points="521.9,138.6 523.7,136.8 524.9,139.8 521.9,139.8 521.9,138.6"/>
<polyline points="509.6,140.4 510.3,140.8"/>
<polyline points="477.2,160.0 482.1,155.5 489.3,153.7 497.8,151.9 506.2,150.1 515.9,148.9 524.3,148.3 528.0,151.9 526.7,155.5 529.2,160.0"/>
<polyline points="571.4,139.8 576.2,137.4 581.1,136.2 590.0,135.0"/>
<polyline points="571.4,142.3 573.8,148.3 578.7,150.7 590.0,149.5"/>
<polyline points="691.0,396.5 693.0,397.5"/>
<polyline points="241.7,121.1 248.7,117.5 256.9,117.0 261.6,121.6 268.6,124.0 275.0,127.1 268.6,125.7 261.6,122.5 255.7,120.5 248.7,120.1 241.7,121.1"/>
<polyline points="255.1,135.1 253.4,131.0 255.7,125.7 259.8,122.8 262.2,128.1 265.1,131.0 268.0,132.2"/>
<polyline points="261.0,122.8 266.3,123.4 269.2,125.1 269.8,128.7 268.0,132.2"/>
<polyline points="269.2,133.9 273.3,133.3 278.0,132.2"/>
<polyline points="280.3,129.2 287.3,128.1"/>
</g>
<g stroke="#FFFF00" stroke-width="1" stroke-dasharray="1 1" shape-rendering="crispEdges">
<line x1="83.5" y1="64" x2="83.5" y2="447" />
<line x1="166.5" y1="64" x2="166.5" y2="447" />
<line x1="248.5" y1="64" x2="248.5" y2="447" />
<line x1="331.5" y1="64" x2="331.5" y2="447" />
<line x1="414.5" y1="64" x2="414.5" y2="447" />
<line x1="497.5" y1="64" x2="497.5" y2="447" />
<line x1="580.5" y1="64" x2="580.5" y2="447" />
<line x1="663.5" y1="64" x2="663.5" y2="447" />
<line x1="746.5" y1="64" x2="746.5" y2="447" />
<line x1="829.5" y1="64" x2="829.5" y2="447" />
<line x1="911.5" y1="64" x2="911.5" y2="447" />
<line x1="0" y1="84.5" x2="994" y2="84.5" />
<line x1="0" y1="169.5" x2="994" y2="169.5" />
<line x1="0" y1="254.5" x2="994" y2="254.5" />
<line x1="0" y1="340.5" x2="994" y2="340.5" />
<line x1="0" y1="426.5" x2="994" y2="426.5" />
</g>
<rect x="0" y="68" width="29" height="16" fill="#000"/>
<rect x="0" y="153" width="29" height="16" fill="#000"/>
<rect x="0" y="238" width="20" height="16" fill="#000"/>
<rect x="0" y="324" width="29" height="16" fill="#000"/>
<rect x="0" y="410" width="29" height="16" fill="#000"/>
<text x="3.50" y="81" textLength="23.00" lengthAdjust="spacingAndGlyphs" class="gl">60N</text>
<text x="3.50" y="166" textLength="23.00" lengthAdjust="spacingAndGlyphs" class="gl">30N</text>
<text x="3.50" y="251" textLength="14.00" lengthAdjust="spacingAndGlyphs" class="gl">00</text>
<text x="3.50" y="337" textLength="23.00" lengthAdjust="spacingAndGlyphs" class="gl">30S</text>
<text x="3.50" y="423" textLength="23.00" lengthAdjust="spacingAndGlyphs" class="gl">60S</text>
<text x="85.50" y="440" textLength="35.00" lengthAdjust="spacingAndGlyphs" class="gl">150W</text>
<text x="168.50" y="440" textLength="35.00" lengthAdjust="spacingAndGlyphs" class="gl">120W</text>
<text x="250.50" y="440" textLength="27.00" lengthAdjust="spacingAndGlyphs" class="gl">90W</text>
<text x="333.50" y="440" textLength="27.00" lengthAdjust="spacingAndGlyphs" class="gl">60W</text>
<text x="416.50" y="440" textLength="27.00" lengthAdjust="spacingAndGlyphs" class="gl">30W</text>
<text x="499.50" y="440" textLength="14.00" lengthAdjust="spacingAndGlyphs" class="gl">00</text>
<text x="582.50" y="440" textLength="22.00" lengthAdjust="spacingAndGlyphs" class="gl">30E</text>
<text x="665.50" y="440" textLength="22.00" lengthAdjust="spacingAndGlyphs" class="gl">60E</text>
<text x="748.50" y="440" textLength="22.00" lengthAdjust="spacingAndGlyphs" class="gl">90E</text>
<text x="830.50" y="440" textLength="29.00" lengthAdjust="spacingAndGlyphs" class="gl">120E</text>
<text x="913.50" y="440" textLength="29.00" lengthAdjust="spacingAndGlyphs" class="gl">150E</text>


</svg>
<div class="t" style="left:12.8px;top:10px;color:#FFDC00;letter-spacing:-0.082px">Date : Friday, April 21, 2023</div>
<div class="t" style="left:638.6px;top:10px;color:#FFDC00;letter-spacing:-0.041px">Crescent Moon Visibility : Shawwal  1444</div>
<div class="t" style="left:12.6px;top:450px;color:#FFDC00;letter-spacing:0.012px">New Moon : Thursday, April 20, 2023  04:12:10  UT</div>
<div class="t" style="left:558.1px;top:450px;color:#FFFF00;letter-spacing:0.198px">Yellow Line : Elongation = 8°  and Moon Altitude = 5°</div>
<div class="t r" style="left:13.6px;top:470px;color:#008C00;letter-spacing:0.039px">A: Easily visible with naked eye</div>
<div class="t r" style="left:270.3px;top:470px;color:#00CDCD;letter-spacing:0.184px">B: Visible if perfect conditions</div>
<div class="t r" style="left:516.8px;top:470px;color:#808080;letter-spacing:0.123px">C: Optical Aid to find moon</div>
<div class="t r" style="left:738.8px;top:470px;color:#FF0000;letter-spacing:0.132px">D: Visible with optical aid only</div>
<div class="t r" style="left:13.6px;top:490px;color:#FFFFFF;letter-spacing:0.055px">Criterion: Syed Khalid Shaukat</div>
<div class="t r" style="left:579.7px;top:490px;color:#FFFFFF;letter-spacing:-0.059px">OmegaHilalSighting  (c)  Developed by Fawzi Kayali</div>
</body></html>
